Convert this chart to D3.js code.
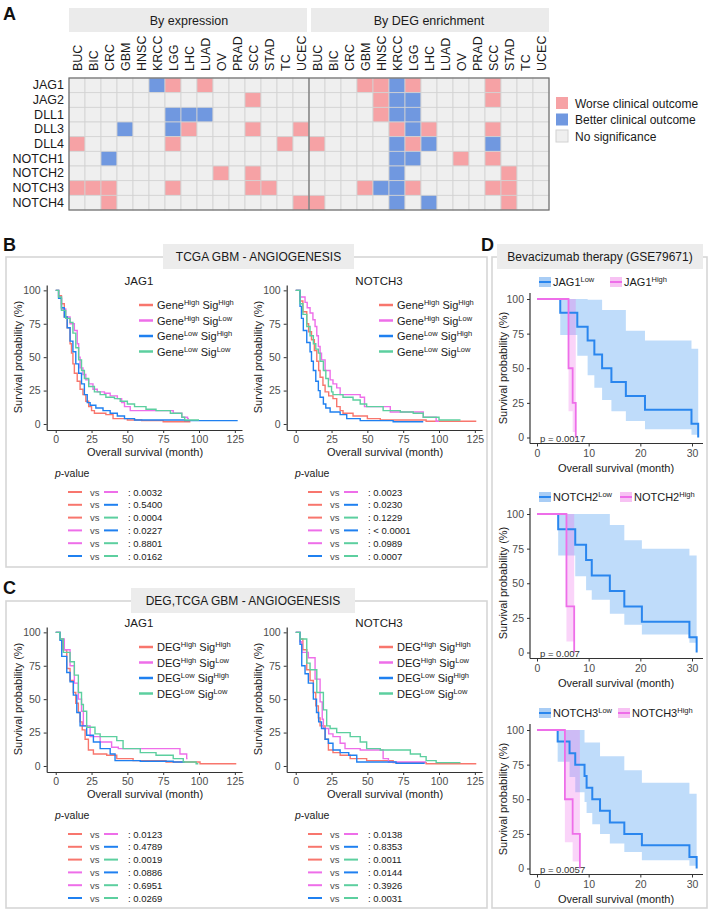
<!DOCTYPE html>
<meta charset="utf-8">
<script src="https://d3js.org/d3.v7.min.js"></script>
<style>
  body { margin: 0; background: #fff; }
  text { font-family: "Liberation Sans", Arial, sans-serif; }
</style>
<div id="fig"></div>
<script>
// ---------- panel A : heatmap ----------
var cancers = ["BUC","BIC","CRC","GBM","HNSC","KRCC","LGG","LHC","LUAD","OV","PRAD","SCC","STAD","TC","UCEC"];
var genes = ["JAG1","JAG2","DLL1","DLL3","DLL4","NOTCH1","NOTCH2","NOTCH3","NOTCH4"];
// one char per cancer: W = worse, B = better, . = no significance
var byExpression = [
  ".....BW.W......",
  "...........W...",
  "......BBB......",
  "...B..BW...W..W",
  "W.....W......W.",
  "..B............",
  ".........W.W...",
  "WWW...W....WW..",
  "..W...........W"
];
var byDEG = [
  "...WWBW....W...",
  "....WBB....W...",
  "....WBB........",
  ".....WBW...W...",
  "W....BWB...B...",
  ".....BB..W.W...",
  ".....B......W..",
  "...WBBW....WW..",
  "W....B.B....W.."
];
var outcomeCodes = ["W","B","."];
var outcomeLabels = ["Worse clinical outcome","Better clinical outcome","No significance"];

// ---------- panel B / C : survival curves [month, survival %] ----------
var groupKeys = ["HH","HL","LH","LL"];
var bJag1HH = [[0,100],[2,96],[4,90],[6,80],[8,72],[10,60],[11,53],[12,45],[13,38],[15,32],[17,26],[19,22],[21,17],[23,13],[25,10],[27,8],[35,7],[40,4],[50,3],[60,2.5],[75,1.7],[94,1.7]];
var bJag1HL = [[0,100],[2,95],[4,86],[7,80],[10,75],[13,70],[15,60],[16,50],[17,42],[19,37],[21,33],[23,30],[26,26],[29,24],[34,23],[38,21],[43,19],[46,16],[48,13],[52,10],[78,10],[82,8],[88,5],[92,4],[93,4]];
var bJag1LH = [[0,100],[2,94],[4,87],[6,80],[8,72],[10,62],[12,54],[14,45],[16,38],[18,30],[20,22],[22,16],[24,14],[28,12],[33,10],[38,8],[43,6],[48,4],[55,3],[90,2.5],[127,2.5]];
var bJag1LL = [[0,100],[2,95],[4,85],[7,79],[10,76],[12,68],[14,57],[16,48],[18,40],[20,34],[23,28],[27,24],[31,22],[35,20],[41,19],[45,17],[50,15],[55,13],[63,11],[70,10],[80,8],[88,5],[90,3],[100,3]];
var bJag1P = ["0.0032","0.5400","0.0004","0.0227","0.8801","0.0162"];

var bNotch3HH = [[0,100],[3,92],[5,84],[7.7,75],[9,69],[11,63],[13,55],[14.7,47],[16,40],[17,35],[19,29],[20.5,24],[23,21],[26,19],[28.6,13],[31,10],[33,8],[40,6],[50,4],[59,3],[91,2],[126,2]];
var bNotch3HL = [[0,100],[3,95],[6.5,91],[8,87],[10,83],[12,78],[13.5,73],[14.7,66],[15.8,58],[17,53],[18,48],[20.5,40],[24,33],[26,30],[28.6,27],[31,22],[45,20],[48,13],[63.5,13],[66,9],[87,9],[89,5],[96,5],[98,2],[100,2]];
var bNotch3LH = [[0,100],[3,88],[4,79],[5.3,70],[7.7,61],[10,54],[11,47],[12.3,40],[14,32],[15.8,25],[17,20],[19.3,15],[21,12],[24,9],[31,7],[35.6,4],[45,2.5],[68,1.7],[89,1.7]];
var bNotch3LL = [[0,100],[3,90],[5,82],[7.7,73],[10,66],[12.3,60],[14,56],[15.8,53],[17,47],[19.3,40],[21,34],[22.8,28],[25,24],[26,22],[33,20],[40,18],[45,15],[49.5,13],[61,10],[73,9],[82,8],[89,5],[100,3],[115,3]];
var bNotch3P = ["0.0023","0.0230","0.1229","< 0.0001","0.0989","0.0007"];

var cJag1HH = [[0,100],[3,95],[5,87],[7.7,73],[10,64],[12.3,55],[14,47],[15.8,40],[17,33],[18.5,27],[20.5,20],[22.8,12],[26.3,9],[35.6,8],[42.6,5.5],[54,4],[77,3],[100.7,1.7],[126,1.7]];
var cJag1HL = [[0,100],[3,95],[6,87],[10,75],[13,62],[15.8,50],[18,41],[19.3,30],[24,22],[31,18],[39,14],[43.7,13],[84.4,13],[86.7,9],[90,9],[91.4,5.5],[92,5.5]];
var cJag1LH = [[0,100],[3,94],[4.2,82],[7.7,70],[10,63],[12.3,53],[14.7,40],[17,30],[21.6,23],[26.3,18],[31,13],[38,9],[41.4,4],[59,3.5],[82,3],[90,3]];
var cJag1LL = [[0,100],[3,95],[5.3,85],[10,78],[13,68],[15.8,55],[18,46],[19.3,41],[21.6,29],[27.4,24],[31,22],[40,22],[42.6,19],[47,13],[59,10],[70,8],[82,5.5],[89,3],[98,1.7],[99.5,1.7]];
var cJag1P = ["0.0123","0.4789","0.0019","0.0886","0.6951","0.0269"];

var cNotch3HH = [[0,100],[3,95],[5,87],[7.7,72],[10,64],[12.3,55],[14,45],[15.8,36],[17,30],[20.5,20],[22.8,12],[26,10],[31,8],[38,5.5],[49.5,4],[68,2.5],[91,1.7],[126,1.7]];
var cNotch3HL = [[0,100],[3,93],[4.2,85],[8.8,81],[13.5,65],[17,48],[18.5,35],[19.3,28],[23,24],[26,22],[31,17],[34.4,13],[45,12],[59,12],[61,5.5],[64.7,3],[91,3]];
var cNotch3LH = [[0,100],[3,91],[4.2,75],[6.5,69],[8.8,62],[12.3,50],[14.5,40],[16,33],[18,28],[20.5,20],[22.8,17],[26,12],[31,10],[37,8],[42.6,3],[70,2],[90,2]];
var cNotch3LL = [[0,100],[3,95],[7.7,77],[10,72],[14.7,55],[19.3,42],[21.6,30],[24,28],[28.6,25],[38,22],[45,18],[49.5,13],[59,12],[73,12],[80,9],[87,7],[91,4],[98,2.5],[115,2.5]];
var cNotch3P = ["0.0138","0.8353","0.0011","0.0144","0.3926","0.0031"];

var pPairs = [[0,1],[0,2],[0,3],[1,2],[1,3],[2,3]];
var xTicksBC = [0,25,50,75,100,125];
var yTicks = [0,25,50,75,100];

// ---------- panel D : bevacizumab [month, survival, lower CI, upper CI] ----------
var dJag1Low = [[0,100,100,100],[4.5,90,74,100],[7.8,80,59,100],[9.8,70,45,99.5],[11.1,60,36,99.5],[12.6,50,27,92],[14.4,40,19,92],[17.2,30,12,77],[20.9,20,6,70],[29.9,10,2,64],[31.2,0,0,0]];
var dJag1High = [[0,100,100,100],[6.1,50,19,100],[6.9,25,4,100],[7.5,0,0,0]];
var dNotch2Low = [[0,100,100,100],[4.1,88.9,70,100],[7.4,77.8,55,100],[9.5,66.7,45,100],[10.6,55.6,38,100],[14.1,44.4,28,92],[16.9,33.3,20,81],[20.3,22.2,13,75],[29.5,11.1,7,70],[30.9,0,0,0]];
var dNotch2High = [[0,100,100,100],[5.7,33.3,8,100],[7.2,0,0,0]];
var dNotch3Low = [[0,100,100,100],[4.0,91.7,77,100],[6.3,83.3,66,100],[7.4,75,55,100],[9.2,66.7,48,91],[9.6,58.3,40,91],[10.7,50,32,91],[12.2,41.7,25,81],[14.1,33.3,18,81],[16.9,25,12,71],[20.3,16.7,6,62],[29.5,8.3,2,54],[30.9,0,0,0]];
var dNotch3High = [[0,100,100,100],[5.4,50,19,100],[6.9,25,5,100],[8.3,0,0,0]];
var xTicksD = [0,10,20,30];

var groupColor = {HH: "#f8766d", HL: "#ee6ee9", LH: "#1f80f0", LL: "#5ccf9f"};
var cellColor = {W: "#f6a2a5", B: "#7098e0", ".": "#efefef"};

var svg = d3.select("#fig").append("svg")
  .attr("width", 710).attr("height", 911);

// panel letters
[["A",3,20],["B",3,251],["C",3,594],["D",481,251]].forEach(function(d){
  svg.append("text").attr("x", d[1]).attr("y", d[2]).text(d[0])
    .attr("font-size", 18).attr("font-weight", "bold").attr("fill", "#111");
});

////////// HEATMAP //////////
var heatX = d3.scaleBand().domain(d3.range(30)).range([69, 549]);
var heatY = d3.scaleBand().domain(genes).range([78, 210]);
var blocks = [
  {title: "By expression", rows: byExpression, start: 0},
  {title: "By DEG enrichment", rows: byDEG, start: 15}
];
blocks.forEach(function(b){
  var x0 = heatX(b.start), x1 = heatX(b.start + 14) + heatX.bandwidth();
  svg.append("rect").attr("x", x0 + (b.start ? 2 : 0)).attr("y", 8)
    .attr("width", x1 - x0 - 2).attr("height", 24).attr("fill", "#ebebeb");
  svg.append("text").attr("x", (x0 + x1) / 2).attr("y", 24.5)
    .attr("text-anchor", "middle").attr("font-size", 12.5).attr("fill", "#1a1a1a").text(b.title);

  b.rows.forEach(function(row, r){
    svg.append("g").selectAll("rect")
      .data(row.split(""))
      .enter().append("rect")
        .attr("x", function(d, i){ return heatX(b.start + i); })
        .attr("y", heatY(genes[r]))
        .attr("width", heatX.bandwidth())
        .attr("height", heatY.bandwidth())
        .attr("fill", function(d){ return cellColor[d]; })
        .attr("stroke", "#d2d2d2").attr("stroke-width", 0.8);
  });

  svg.append("g").selectAll("text")
    .data(cancers)
    .enter().append("text")
      .attr("transform", function(d, i){
        return "translate(" + (heatX(b.start + i) + heatX.bandwidth() / 2 + 0.5) + ",71) rotate(-90)";
      })
      .attr("dominant-baseline", "central")
      .attr("font-size", 12.5).attr("fill", "#1a1a1a")
      .text(function(d){ return d; });
});
// outer frame and split line
svg.append("rect").attr("x", 69).attr("y", 78).attr("width", 480).attr("height", 132)
  .attr("fill", "none").attr("stroke", "#6e6e6e").attr("stroke-width", 1.2);
svg.append("line").attr("x1", heatX(15)).attr("x2", heatX(15)).attr("y1", 78).attr("y2", 210)
  .attr("stroke", "#6e6e6e").attr("stroke-width", 1.2);

svg.append("g").selectAll("text")
  .data(genes)
  .enter().append("text")
    .attr("x", 64)
    .attr("y", function(d){ return heatY(d) + heatY.bandwidth() / 2; })
    .attr("text-anchor", "end").attr("dominant-baseline", "central")
    .attr("font-size", 12.5).attr("fill", "#1a1a1a")
    .text(function(d){ return d; });

// heatmap legend
outcomeCodes.forEach(function(code, i){
  var ly = 97 + i * 16.5;
  svg.append("rect").attr("x", 556).attr("y", ly).attr("width", 12).attr("height", 12)
    .attr("fill", cellColor[code]).attr("stroke", code === "." ? "#d2d2d2" : "none");
  svg.append("text").attr("x", 575).attr("y", ly + 10.5)
    .attr("font-size", 12).attr("fill", "#1a1a1a").text(outcomeLabels[i]);
});

////////// PANEL BOXES //////////
function panelBox(x, y, w, h, tab) {
  svg.append("rect").attr("x", x).attr("y", y).attr("width", w).attr("height", h)
    .attr("fill", "none").attr("stroke", "#d6d6d6").attr("stroke-width", 1.6);
  svg.append("rect").attr("x", tab[0]).attr("y", y - 13).attr("width", tab[1] - tab[0]).attr("height", 25)
    .attr("fill", "#ececec");
  svg.append("text").attr("x", (tab[0] + tab[1]) / 2).attr("y", y + 4)
    .attr("text-anchor", "middle").attr("font-size", 12).attr("fill", "#1a1a1a").text(tab[2]);
}
panelBox(6, 257, 481, 310, [163, 354, "TCGA GBM - ANGIOGENESIS"]);
panelBox(6, 601, 481, 307, [131, 355, "DEG,TCGA GBM - ANGIOGENESIS"]);
panelBox(492, 257, 215, 651, [497, 703, "Bevacizumab therapy (GSE79671)"]);

function styleAxis(g) {
  g.attr("font-family", null).attr("font-size", 10.5);
  g.select(".domain").attr("stroke", "#333").attr("stroke-width", 1.2);
  g.selectAll(".tick line").attr("stroke", "#333");
  g.selectAll(".tick text").attr("fill", "#4d4d4d");
}

// label with superscripts: parts = [[text, isSup], ...]
function supLabel(sel, parts, base, small) {
  var shift = 0;
  parts.forEach(function(p){
    var t = sel.append("tspan").text(p[0]);
    if (p[1]) { t.attr("font-size", small).attr("dy", -4 - shift); shift = -4; }
    else { t.attr("font-size", base).attr("dy", -shift); shift = 0; }
  });
}

////////// KM PLOTS (B, C) //////////
function kmPlot(ox, oy, title, prefix, curves, pvals) {
  var x = d3.scaleLinear().domain([-6.3, 130]).range([46.7 + ox, 242 + ox]);
  var y = d3.scaleLinear().domain([-4.5, 104]).range([430 + oy, 285 + oy]);

  svg.append("g").attr("transform", "translate(0," + (430 + oy) + ")")
    .call(d3.axisBottom(x).tickValues(xTicksBC).tickSize(3).tickSizeOuter(0))
    .call(styleAxis);
  svg.append("g").attr("transform", "translate(" + (46.7 + ox) + ",0)")
    .call(d3.axisLeft(y).tickValues(yTicks).tickSize(3).tickSizeOuter(0))
    .call(styleAxis);

  svg.append("text").attr("x", 145 + ox).attr("y", 456 + oy).attr("text-anchor", "middle")
    .attr("font-size", 11).attr("fill", "#1a1a1a").text("Overall survival (month)");
  svg.append("text").attr("transform", "translate(" + (22 + ox) + "," + (357 + oy) + ") rotate(-90)")
    .attr("text-anchor", "middle").attr("font-size", 11).attr("fill", "#1a1a1a")
    .text("Survival probability (%)");
  svg.append("text").attr("x", 139 + ox).attr("y", 285 + oy).attr("text-anchor", "middle")
    .attr("font-size", 11.5).attr("fill", "#1a1a1a").text(title);

  var line = d3.line()
    .x(function(d){ return x(d[0]); })
    .y(function(d){ return y(d[1]); })
    .curve(d3.curveStepAfter);

  groupKeys.forEach(function(k, i){
    svg.append("path").datum(curves[i])
      .attr("d", line).attr("fill", "none")
      .attr("stroke", groupColor[k]).attr("stroke-width", 1.4);
  });

  // legend
  var supParts = [
    [[prefix,false],["High",true],[" Sig",false],["High",true]],
    [[prefix,false],["High",true],[" Sig",false],["Low",true]],
    [[prefix,false],["Low",true],[" Sig",false],["High",true]],
    [[prefix,false],["Low",true],[" Sig",false],["Low",true]]
  ];
  groupKeys.forEach(function(k, i){
    var ly = 305 + oy + i * 15.5;
    svg.append("line").attr("x1", 139 + ox).attr("x2", 153 + ox).attr("y1", ly).attr("y2", ly)
      .attr("stroke", groupColor[k]).attr("stroke-width", 2.5);
    var t = svg.append("text").attr("x", 157 + ox).attr("y", ly + 4).attr("fill", "#1a1a1a");
    supLabel(t, supParts[i], 11, 7.5);
  });

  // p-value table
  var pt = svg.append("text").attr("x", 55 + ox).attr("y", 477 + oy)
    .attr("font-size", 10.5).attr("fill", "#1a1a1a");
  pt.append("tspan").attr("font-style", "italic").text("p");
  pt.append("tspan").text("-value");
  pPairs.forEach(function(pr, i){
    var ry = 492 + oy + i * 12.8;
    svg.append("line").attr("x1", 68 + ox).attr("x2", 82 + ox).attr("y1", ry).attr("y2", ry)
      .attr("stroke", groupColor[groupKeys[pr[0]]]).attr("stroke-width", 2);
    svg.append("text").attr("x", 90 + ox).attr("y", ry + 3.5).attr("font-size", 9.5)
      .attr("fill", "#4d4d4d").text("vs");
    svg.append("line").attr("x1", 104 + ox).attr("x2", 118 + ox).attr("y1", ry).attr("y2", ry)
      .attr("stroke", groupColor[groupKeys[pr[1]]]).attr("stroke-width", 2);
    svg.append("text").attr("x", 128 + ox).attr("y", ry + 3.5).attr("font-size", 9.5)
      .attr("fill", "#1a1a1a").text(": " + pvals[i]);
  });
}

kmPlot(0, 0, "JAG1", "Gene", [bJag1HH, bJag1HL, bJag1LH, bJag1LL], bJag1P);
kmPlot(240, 0, "NOTCH3", "Gene", [bNotch3HH, bNotch3HL, bNotch3LH, bNotch3LL], bNotch3P);
kmPlot(0, 342, "JAG1", "DEG", [cJag1HH, cJag1HL, cJag1LH, cJag1LL], cJag1P);
kmPlot(240, 342, "NOTCH3", "DEG", [cNotch3HH, cNotch3HL, cNotch3LH, cNotch3LL], cNotch3P);

////////// PANEL D //////////
var lowCol = "#2a86ee", highCol = "#ee6ee9";
function dPlot(y100, gene, low, high, pText, pinkKeyX) {
  var y0 = y100 + 138.5;
  var x = d3.scaleLinear().domain([0, 30]).range([537, 692]);
  var y = d3.scaleLinear().domain([0, 100]).range([y0, y100]);

  svg.append("g").attr("transform", "translate(0," + (y0 + 6) + ")")
    .call(d3.axisBottom(x).tickValues(xTicksD).tickSize(3).tickSizeOuter(0))
    .call(styleAxis)
    .select(".domain").attr("d", "M530,0H703");
  svg.append("g").attr("transform", "translate(530,0)")
    .call(d3.axisLeft(y).tickValues(yTicks).tickSize(3).tickSizeOuter(0))
    .call(styleAxis)
    .select(".domain").attr("d", "M0," + (y100 - 6) + "V" + (y0 + 6));

  var area = d3.area()
    .x(function(d){ return x(d[0]); })
    .y0(function(d){ return y(d[2]); })
    .y1(function(d){ return y(d[3]); })
    .curve(d3.curveStepAfter);
  var line = d3.line()
    .x(function(d){ return x(d[0]); })
    .y(function(d){ return y(d[1]); })
    .curve(d3.curveStepAfter);

  svg.append("path").datum(low).attr("d", area).attr("fill", "#3d96f0").attr("fill-opacity", 0.33);
  svg.append("path").datum(high).attr("d", area).attr("fill", "#ee70ea").attr("fill-opacity", 0.3);
  svg.append("path").datum(low).attr("d", line).attr("fill", "none")
    .attr("stroke", lowCol).attr("stroke-width", 2);
  svg.append("path").datum(high).attr("d", line).attr("fill", "none")
    .attr("stroke", highCol).attr("stroke-width", 1.8);

  svg.append("text").attr("x", 540).attr("y", y0 + 4).attr("font-size", 9.5)
    .attr("fill", "#333").text("p = " + pText);

  svg.append("text").attr("x", 616).attr("y", y0 + 34).attr("text-anchor", "middle")
    .attr("font-size", 11).attr("fill", "#1a1a1a").text("Overall survival (month)");
  svg.append("text").attr("transform", "translate(507," + (y100 + 69) + ") rotate(-90)")
    .attr("text-anchor", "middle").attr("font-size", 11).attr("fill", "#1a1a1a")
    .text("Survival probability (%)");

  // legend
  var ly = y100 - 17;
  [[539, lowCol, "#a9cdf5", "Low"], [pinkKeyX, highCol, "#f7c2f3", "High"]].forEach(function(k){
    svg.append("rect").attr("x", k[0]).attr("y", ly - 5).attr("width", 12).attr("height", 10).attr("fill", k[2]);
    svg.append("line").attr("x1", k[0]).attr("x2", k[0] + 12).attr("y1", ly).attr("y2", ly)
      .attr("stroke", k[1]).attr("stroke-width", 2);
    var t = svg.append("text").attr("x", k[0] + 14).attr("y", ly + 4).attr("fill", "#1a1a1a");
    supLabel(t, [[gene, false], [k[3], true]], 11, 7.5);
  });
}
dPlot(299, "JAG1", dJag1Low, dJag1High, "0.0017", 610);
dPlot(514, "NOTCH2", dNotch2Low, dNotch2High, "0.007", 620);
dPlot(730, "NOTCH3", dNotch3Low, dNotch3High, "0.0057", 618);
</script>
